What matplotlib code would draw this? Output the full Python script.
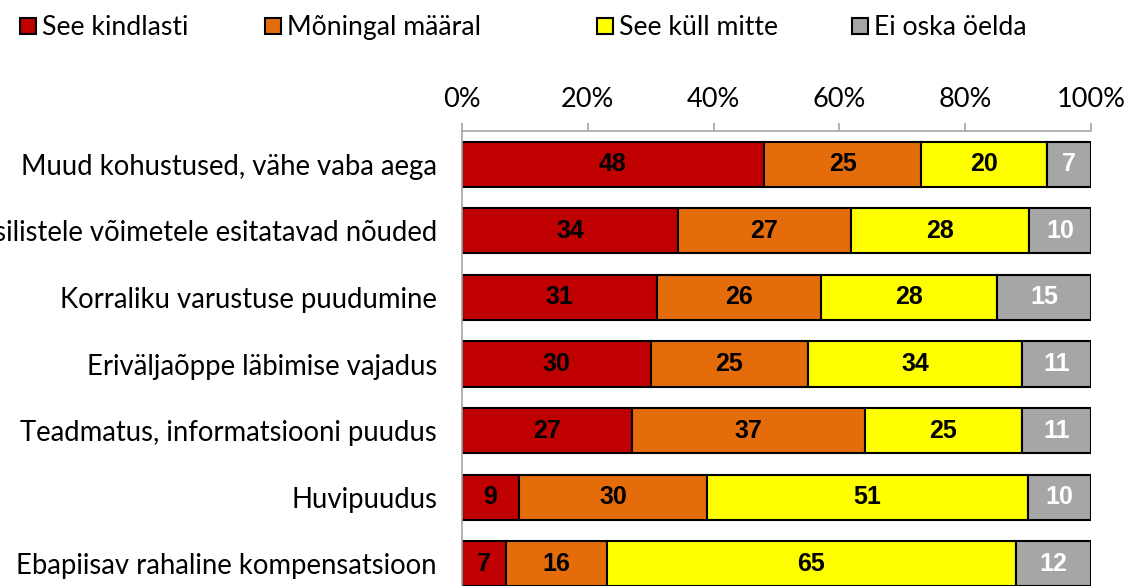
import matplotlib.pyplot as plt
from matplotlib.patches import Rectangle
import numpy as np

kategooriad = [
    'Muud kohustused, vähe vaba aega',
    'Füüsilistele võimetele esitatavad nõuded',
    'Korraliku varustuse puudumine',
    'Eriväljaõppe läbimise vajadus',
    'Teadmatus, informatsiooni puudus',
    'Huvipuudus',
    'Ebapiisav rahaline kompensatsioon',
]
see_kindlasti = [48, 34.4, 31, 30, 27, 9, 7]
moningal_maaral = [25, 27.4, 26, 25, 37, 30, 16]
see_kull_mitte = [20, 28.3, 28, 34, 25, 51, 65]
ei_oska = [7, 9.9, 15, 11, 11, 10, 12]

seeriad = ['See kindlasti', 'Mõningal määral', 'See küll mitte', 'Ei oska öelda']
varvid = ['#C00000', '#E46C0A', '#FFFF00', '#A6A6A6']
teksti_varvid = ['black', 'black', 'black', 'white']

W, H = 1129, 586
fig = plt.figure(figsize=(W / 100, H / 100), dpi=100)
ax = fig.add_axes([462 / W, (586 - 597) / H, 629 / W, (597 - 131) / H])

narrow = ['Liberation Sans Narrow', 'DejaVu Sans Condensed', 'Liberation Sans']

y = np.arange(len(kategooriad))
vasak = np.zeros(len(kategooriad))
kogu = [see_kindlasti, moningal_maaral, see_kull_mitte, ei_oska]
for vaartused, nimi, varv, tvarv in zip(kogu, seeriad, varvid, teksti_varvid):
    vaartused = np.array(vaartused, dtype=float)
    ax.barh(y, vaartused, left=vasak, height=0.68, color=varv,
            edgecolor='black', linewidth=1.5, label=nimi)
    for yi, l, v in zip(y, vasak, vaartused):
        ax.text(l + v / 2, yi, f'{v:.0f}', ha='center', va='center',
                color=tvarv, fontsize=18, fontweight='bold', family=narrow)
    vasak += vaartused

ax.set_xlim(0, 100)
ax.set_ylim(len(kategooriad) - 0.5, -0.5)
ax.set_xticks(np.arange(0, 101, 20))
ax.set_xticklabels([f'{t}%' for t in range(0, 101, 20)], family='Lato', fontsize=19.5)
ax.xaxis.tick_top()
ax.tick_params(axis='x', length=6, width=1.2, color='#A6A6A6', pad=8)
ax.set_yticks(y)
ax.set_yticklabels(kategooriad, family='Lato', fontsize=19.8)
ax.tick_params(axis='y', length=0, pad=18)
for s in ['right', 'bottom']:
    ax.spines[s].set_visible(False)
for s in ['top', 'left']:
    ax.spines[s].set_color('#A6A6A6')
    ax.spines[s].set_linewidth(1.2)

# legend käsitsi: ruut + tekst, et vahed vastaksid originaalile
legend_x = [20, 265, 597, 852]
for nimi, varv, lx in zip(seeriad, varvid, legend_x):
    fig.add_artist(Rectangle((lx / W, 1 - 34 / H), 16 / W, 16 / H,
                             transform=fig.transFigure, facecolor=varv,
                             edgecolor='black', linewidth=1.5))
    fig.text((lx + 22) / W, 1 - 35 / H, nimi, ha='left', va='baseline',
             family='Lato', fontsize=19.2)

fig.savefig('out.png', dpi=100)
